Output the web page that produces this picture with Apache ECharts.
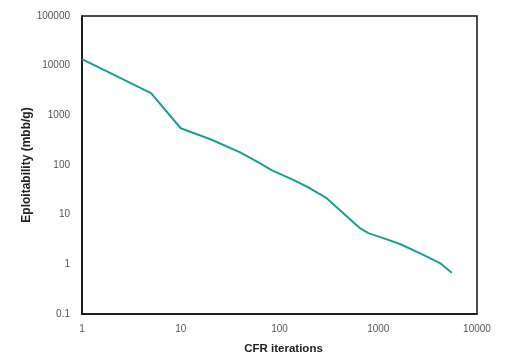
<!DOCTYPE html>
<html><head><meta charset="utf-8">
<script src="https://cdn.jsdelivr.net/npm/echarts@6/dist/echarts.min.js"></script>
<style>html,body{margin:0;padding:0;background:#fff}#c{width:505px;height:361px}</style>
</head><body><div id="c"></div>
<script>
const iterations = [1, 5, 10, 20, 40, 63, 84, 138, 204, 300, 443, 653, 794, 1125, 1660, 2860, 4220, 5540];
const exploitability = [13600, 2790, 550, 330, 180, 109, 78, 50, 34, 21.5, 10.7, 5.35, 4.25, 3.37, 2.57, 1.55, 1.06, 0.68];
const xTicks = ['1', '10', '100', '1000', '10000'];
const yTicks = ['0.1', '1', '10', '100', '1000', '10000', '100000'];

const chart = echarts.init(document.getElementById('c'), null, {renderer: 'canvas'});
const fam = '"Liberation Sans", Arial, sans-serif';
chart.setOption({
  animation: false,
  grid: {left: 82, right: 28, top: 16, bottom: 47, show: true, borderColor: '#111', borderWidth: 1.5, backgroundColor: '#fff'},
  xAxis: {
    type: 'log', logBase: 10, min: 1, max: 10000,
    name: 'CFR iterations', nameLocation: 'middle', nameGap: 29, nameMoveOverlap: false,
    nameTextStyle: {fontFamily: fam, fontWeight: 'bold', fontSize: 11.5, color: '#222', padding: [0, 0, 0, 8]},
    axisLine: {show: true, lineStyle: {color: '#111', width: 1.5}},
    axisTick: {show: false}, splitLine: {show: false}, minorTick: {show: false},
    axisLabel: {fontFamily: fam, fontSize: 10, color: '#555', margin: 10,
      formatter: v => xTicks[Math.round(Math.log10(v))]}
  },
  yAxis: {
    type: 'log', logBase: 10, min: 0.1, max: 100000,
    name: 'Eploitability (mbb/g)', nameLocation: 'middle', nameGap: 49, nameRotate: 90, nameMoveOverlap: false,
    nameTextStyle: {fontFamily: fam, fontWeight: 'bold', fontSize: 12, color: '#222'},
    axisLine: {show: true, lineStyle: {color: '#111', width: 1.5}},
    axisTick: {show: false}, splitLine: {show: false},
    axisLabel: {fontFamily: fam, fontSize: 10, color: '#555', margin: 12,
      formatter: v => yTicks[Math.round(Math.log10(v)) + 1]}
  },
  series: [{
    type: 'line', data: iterations.map((x, i) => [x, exploitability[i]]),
    showSymbol: false, lineStyle: {color: '#1c9e95', width: 2}, smooth: false
  }]
});
</script></body></html>
